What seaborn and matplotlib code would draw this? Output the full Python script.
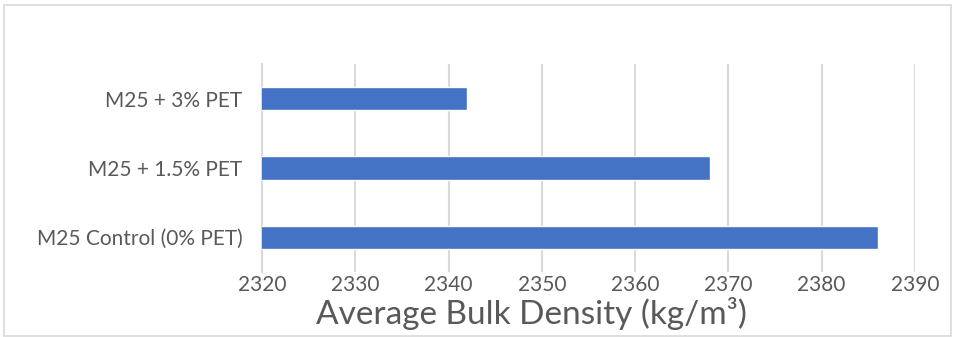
import matplotlib
matplotlib.use("Agg")
import matplotlib.pyplot as plt
import seaborn as sns
import pandas as pd
from matplotlib.patches import Rectangle

# values
mixes = ["M25 + 3% PET", "M25 + 1.5% PET", "M25 Control (0% PET)"]
bulk_density = [2342, 2368, 2386]
x_ticks = [2320, 2330, 2340, 2350, 2360, 2370, 2380, 2390]

df = pd.DataFrame({"mix": mixes, "density": bulk_density})

sns.set_style("white")
plt.rcParams["font.family"] = ["Lato", "DejaVu Sans"]

text_color = "#595959"
fig = plt.figure(figsize=(9.56, 3.37), dpi=100)
ax = fig.add_axes([0.274, 0.193, 0.683, 0.617])

sns.barplot(data=df, x="density", y="mix", order=mixes, orient="h",
            color="#4472C4", width=0.34, saturation=1, ax=ax, zorder=3)

ax.set_xlim(2320, 2390)
ax.set_xticks(x_ticks)
ax.grid(axis="x", color="#D9D9D9", linewidth=1.5, zorder=0)
ax.set_axisbelow(True)
for s in ["top", "right", "bottom"]:
    ax.spines[s].set_visible(False)
ax.spines["left"].set_color("#D9D9D9")
ax.spines["left"].set_linewidth(1.5)

ax.tick_params(axis="both", length=0, labelsize=15, labelcolor=text_color)
ax.tick_params(axis="x", pad=2)
ax.tick_params(axis="y", pad=14)
ax.set_ylabel("")
ax.set_xlabel("Average Bulk Density (kg/m³)", fontsize=24, color=text_color)
ax.xaxis.set_label_coords(0.413, -0.12)
ax.xaxis.label.set_va("top")

# light chart-area border
fig.patches.append(Rectangle((4 / 956, 1 / 337), 947 / 956, 331 / 337,
                             transform=fig.transFigure, fill=False,
                             edgecolor="#D9D9D9", linewidth=1.2))

fig.savefig("out.png", dpi=100)
